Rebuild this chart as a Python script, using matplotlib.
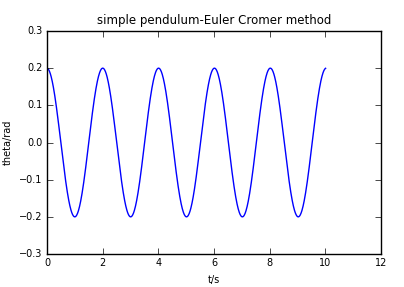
import numpy as np
import matplotlib
matplotlib.use("Agg")
import matplotlib.pyplot as plt

# pendulum parameters (period ~2 s, amplitude 0.2 rad)
theta0 = 0.2
omega0 = 0.0
g = 9.8
length = 1.0
dt = 0.01
t_end = 10.0

x_ticks = [0, 2, 4, 6, 8, 10, 12]
y_ticks = [-0.3, -0.2, -0.1, 0.0, 0.1, 0.2, 0.3]


def euler_cromer(theta0, omega0, g, length, dt, t_end):
    t = [0.0]
    theta = [theta0]
    omega = [omega0]
    while t[-1] < t_end:
        w = omega[-1] - g / length * theta[-1] * dt
        omega.append(w)
        theta.append(theta[-1] + w * dt)
        t.append(t[-1] + dt)
    return np.array(t), np.array(theta)


t, theta = euler_cromer(theta0, omega0, g, length, dt, t_end)

plt.style.use("classic")
fig = plt.figure(figsize=(4.04, 2.87), dpi=100, facecolor="white")
ax = fig.add_axes([47 / 404, 33 / 287, 334 / 404, 223 / 287])
ax.plot(t, theta, color="b", linewidth=1.0)
ax.set_xlim(0, 12)
ax.set_ylim(-0.3, 0.3)
ax.set_xticks(x_ticks)
ax.set_yticks(y_ticks)
ax.tick_params(labelsize=7, length=4, pad=3)
ax.set_title("simple pendulum-Euler Cromer method", fontsize=8.5)
ax.set_xlabel("t/s", fontsize=7)
ax.set_ylabel("theta/rad", fontsize=7)

fig.savefig("out.png", dpi=100, facecolor="white")
